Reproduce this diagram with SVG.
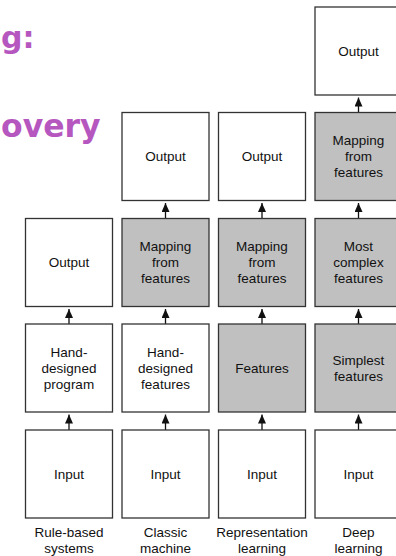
<svg xmlns="http://www.w3.org/2000/svg" width="396" height="556" viewBox="0 0 396 556">
<style>
.b{fill:#fff;stroke:#333;stroke-width:1.3}
.g{fill:#c0c0c0;stroke:#333;stroke-width:1.3}
.t{font-family:"Liberation Sans",Arial,sans-serif;font-size:13.5px;fill:#111;text-anchor:middle}
.c{stroke:#111;stroke-width:1.3;fill:none;marker-end:url(#ah)}
.h{font-family:"DejaVu Sans",sans-serif;font-weight:bold;fill:#b657c0}
</style>
<defs>
<marker id="ah" markerUnits="userSpaceOnUse" viewBox="0 0 9 8" refX="9" refY="4" markerWidth="9" markerHeight="8" orient="auto">
<path d="M0,0 L9,4 L0,8 z" fill="#111"/>
</marker>
</defs>
<g id="title">
<text class="h" x="1" y="48" font-size="30">g:</text>
<text class="h" x="1" y="137" font-size="31.5">overy</text>
</g>
<g id="connectors">
<line class="c" x1="69" y1="430" x2="69" y2="414.5"/>
<line class="c" x1="69" y1="324" x2="69" y2="309"/>
<line class="c" x1="165.5" y1="430" x2="165.5" y2="414.5"/>
<line class="c" x1="165.5" y1="324" x2="165.5" y2="309"/>
<line class="c" x1="165.5" y1="218.5" x2="165.5" y2="203"/>
<line class="c" x1="262" y1="430" x2="262" y2="414.5"/>
<line class="c" x1="262" y1="324" x2="262" y2="309"/>
<line class="c" x1="262" y1="218.5" x2="262" y2="203"/>
<line class="c" x1="358.5" y1="430" x2="358.5" y2="414.5"/>
<line class="c" x1="358.5" y1="324" x2="358.5" y2="309"/>
<line class="c" x1="358.5" y1="218.5" x2="358.5" y2="203"/>
<line class="c" x1="358.5" y1="112.5" x2="358.5" y2="97.5"/>
</g>
<!-- Column 1 -->
<g id="c1-input"><rect class="b" x="25.5" y="430" width="87" height="88"/><text class="t" x="69" y="478.8">Input</text></g>
<g id="c1-program"><rect class="b" x="25.5" y="324" width="87" height="88"/><text class="t" x="69" y="356.8">Hand-</text><text class="t" x="69" y="372.8">designed</text><text class="t" x="69" y="388.8">program</text></g>
<g id="c1-output"><rect class="b" x="25.5" y="218.5" width="87" height="88"/><text class="t" x="69" y="267.3">Output</text></g>
<g id="c1-label"><text class="t" x="69" y="536.5">Rule-based</text><text class="t" x="69" y="552.5">systems</text></g>
<!-- Column 2 -->
<g id="c2-input"><rect class="b" x="122" y="430" width="87" height="88"/><text class="t" x="165.5" y="478.8">Input</text></g>
<g id="c2-features"><rect class="b" x="122" y="324" width="87" height="88"/><text class="t" x="165.5" y="356.8">Hand-</text><text class="t" x="165.5" y="372.8">designed</text><text class="t" x="165.5" y="388.8">features</text></g>
<g id="c2-mapping"><rect class="g" x="122" y="218.5" width="87" height="88"/><text class="t" x="165.5" y="251.3">Mapping</text><text class="t" x="165.5" y="267.3">from</text><text class="t" x="165.5" y="283.3">features</text></g>
<g id="c2-output"><rect class="b" x="122" y="112.5" width="87" height="88"/><text class="t" x="165.5" y="161.3">Output</text></g>
<g id="c2-label"><text class="t" x="165.5" y="536.5">Classic</text><text class="t" x="165.5" y="552.5">machine</text></g>
<!-- Column 3 -->
<g id="c3-input"><rect class="b" x="218.5" y="430" width="87" height="88"/><text class="t" x="262" y="478.8">Input</text></g>
<g id="c3-features"><rect class="g" x="218.5" y="324" width="87" height="88"/><text class="t" x="262" y="372.8">Features</text></g>
<g id="c3-mapping"><rect class="g" x="218.5" y="218.5" width="87" height="88"/><text class="t" x="262" y="251.3">Mapping</text><text class="t" x="262" y="267.3">from</text><text class="t" x="262" y="283.3">features</text></g>
<g id="c3-output"><rect class="b" x="218.5" y="112.5" width="87" height="88"/><text class="t" x="262" y="161.3">Output</text></g>
<g id="c3-label"><text class="t" x="262" y="536.5">Representation</text><text class="t" x="262" y="552.5">learning</text></g>
<!-- Column 4 -->
<g id="c4-input"><rect class="b" x="315" y="430" width="87" height="88"/><text class="t" x="358.5" y="478.8">Input</text></g>
<g id="c4-simplest"><rect class="g" x="315" y="324" width="87" height="88"/><text class="t" x="358.5" y="364.8">Simplest</text><text class="t" x="358.5" y="380.8">features</text></g>
<g id="c4-complex"><rect class="g" x="315" y="218.5" width="87" height="88"/><text class="t" x="358.5" y="251.3">Most</text><text class="t" x="358.5" y="267.3">complex</text><text class="t" x="358.5" y="283.3">features</text></g>
<g id="c4-mapping"><rect class="g" x="315" y="112.5" width="87" height="88"/><text class="t" x="358.5" y="145.3">Mapping</text><text class="t" x="358.5" y="161.3">from</text><text class="t" x="358.5" y="177.3">features</text></g>
<g id="c4-output"><rect class="b" x="315" y="7" width="87" height="88"/><text class="t" x="358.5" y="55.8">Output</text></g>
<g id="c4-label"><text class="t" x="358.5" y="536.5">Deep</text><text class="t" x="358.5" y="552.5">learning</text></g>
</svg>
